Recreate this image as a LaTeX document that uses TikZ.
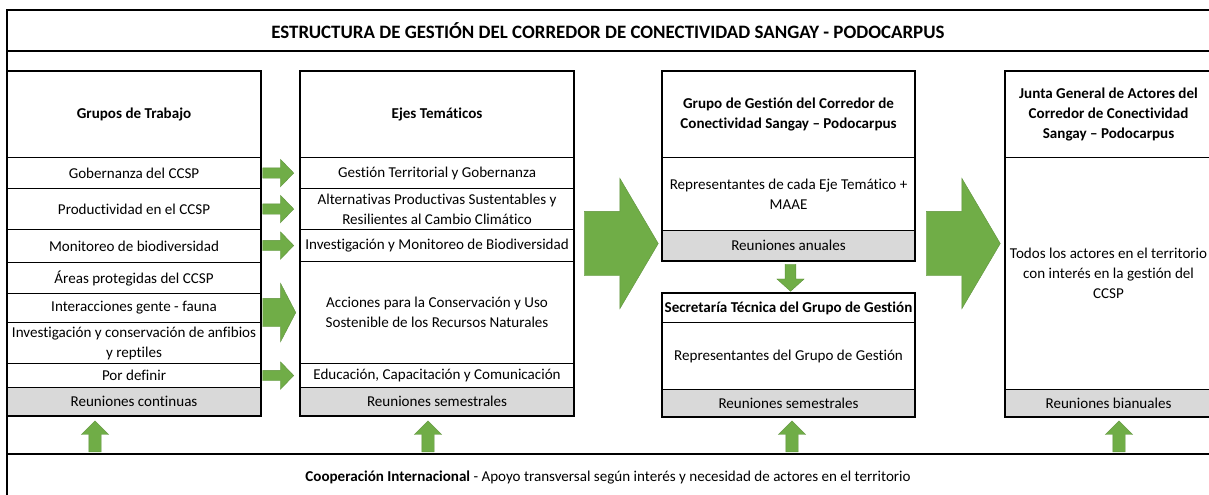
\documentclass[tikz,border=0pt]{standalone}
\usepackage{fontspec}
\setmainfont{Carlito}[Ligatures=NoCommon]
\usetikzlibrary{shapes.arrows,calc}

\definecolor{arrowgreen}{HTML}{70AD47}
\definecolor{meetgrey}{HTML}{D9D9D9}

\tikzset{
  cell/.style 2 args={draw, line width=0.8pt, anchor=north west, inner sep=0pt,
    minimum width=#1*0.75pt, minimum height=#2*0.75pt, align=center,
    font=\fontsize{11.3}{15}\selectfont},
  headcell/.style 2 args={cell={#1}{#2}, font=\fontsize{11.3}{15}\selectfont\bfseries},
  meetcell/.style 2 args={cell={#1}{#2}, fill=meetgrey},
  boxline/.style={line width=1.3pt},
  frameline/.style={line width=1.3pt},
  greenarrow/.style={single arrow, fill=arrowgreen, draw=arrowgreen!85!black,
    line width=0.3pt, single arrow head indent=0pt},
  smallarrow/.style={greenarrow, inner xsep=0pt, inner ysep=3.75pt,
    minimum height=23.25pt, single arrow head extend=6.4pt, single arrow tip angle=92},
  widearrow/.style={greenarrow, inner xsep=0pt, inner ysep=10.5pt,
    minimum height=24.75pt, single arrow head extend=11.25pt, single arrow tip angle=125},
  bigarrow/.style={greenarrow, inner xsep=0pt, inner ysep=24pt,
    minimum height=55.5pt, single arrow head extend=24.75pt, single arrow tip angle=119},
  downarrow/.style={greenarrow, inner sep=3.9pt, shape border rotate=270,
    minimum height=20.25pt, single arrow head extend=6.2pt, single arrow tip angle=96},
  uparrow/.style={greenarrow, inner sep=4.5pt, shape border rotate=90,
    minimum height=23.25pt, single arrow head extend=5.6pt, single arrow tip angle=90}
}

\begin{document}
\begin{tikzpicture}[x=0.75pt, y=-0.75pt]
\useasboundingbox (0,0) rectangle (1209,495);
\fill[white] (0,0) rectangle (1209,495);

% frame and title
\draw[frameline] (7,495) -- (7,10) -- (1215,10);
\draw[frameline] (7,51) -- (1215,51);
\draw[frameline] (7,454) -- (1215,454);
\node[font=\fontsize{14.2}{16}\selectfont\bfseries] (title) at (608,30.5)
  {ESTRUCTURA DE GESTIÓN DEL CORREDOR DE CONECTIVIDAD SANGAY - PODOCARPUS};

% Grupos de Trabajo
\node[headcell={253}{86}] (ghead) at (7,71) {Grupos de Trabajo};
\node[cell={253}{31}] (g1) at (7,157) {Gobernanza del CCSP};
\node[cell={253}{41}] (g2) at (7,188) {Productividad en el CCSP};
\node[cell={253}{33}] (g3) at (7,229) {Monitoreo de biodiversidad};
\node[cell={253}{31}] (g4) at (7,262) {Áreas protegidas del CCSP};
\node[cell={253}{29}] (g5) at (7,293) {Interacciones gente - fauna};
\node[cell={253}{41}] (g6) at (7,322) {Investigación y conservación de anfibios\\y reptiles};
\node[cell={253}{24}] (g7) at (7,363) {Por definir};
\node[meetcell={253}{28}] (gmeet) at (7,387) {Reuniones continuas};
\draw[boxline] (ghead.north west) rectangle (gmeet.south east);

% Ejes Tematicos
\node[headcell={273}{86}] (ehead) at (300,71) {Ejes Temáticos};
\node[cell={273}{31}] (e1) at (300,157) {Gestión Territorial y Gobernanza};
\node[cell={273}{41}] (e2) at (300,188) {Alternativas Productivas Sustentables y\\Resilientes al Cambio Climático};
\node[cell={273}{32}] (e3) at (300,229) {Investigación y Monitoreo de Biodiversidad};
\node[cell={273}{102}] (e4) at (300,261) {Acciones para la Conservación y Uso\\Sostenible de los Recursos Naturales};
\node[cell={273}{24}] (e5) at (300,363) {Educación, Capacitación y Comunicación};
\node[meetcell={273}{28}] (emeet) at (300,387) {Reuniones semestrales};
\draw[boxline] (ehead.north west) rectangle (emeet.south east);

% Grupo de Gestion y Secretaria
\node[headcell={252}{86}] (gghead) at (662,71) {Grupo de Gestión del Corredor de\\Conectividad Sangay – Podocarpus};
\node[cell={252}{73}] (gg1) at (662,157) {Representantes de cada Eje Temático +\\MAAE};
\node[meetcell={252}{30}] (ggmeet) at (662,230) {Reuniones anuales};
\draw[boxline] (gghead.north west) rectangle (ggmeet.south east);
\node[headcell={252}{29}] (sthead) at (662,293) {Secretaría Técnica del Grupo de Gestión};
\node[cell={252}{67}] (st1) at (662,322) {Representantes del Grupo de Gestión};
\node[meetcell={252}{27}] (stmeet) at (662,389) {Reuniones semestrales};
\draw[boxline] (sthead.north west) rectangle (stmeet.south east);

% Junta General
\node[headcell={206}{86}] (jghead) at (1005,71) {Junta General de Actores del\\Corredor de Conectividad\\Sangay – Podocarpus};
\node[cell={206}{232}] (jg1) at (1005,157) {Todos los actores en el territorio\\con interés en la gestión del\\CCSP};
\node[meetcell={206}{27}] (jgmeet) at (1005,389) {Reuniones bianuales};
\draw[boxline] (jghead.north west) rectangle (jgmeet.south east);

% arrows between columns
\node[smallarrow, anchor=tip] (a1) at ([xshift=-4.5pt]e1.west) {};
\node[smallarrow, anchor=tip] (a2) at ([xshift=-4.5pt]e2.west) {};
\node[smallarrow, anchor=tip] (a3) at ([xshift=-4.5pt]e3.west) {};
\node[widearrow, anchor=tip] (a4) at ([xshift=-3pt]e4.west) {};
\node[smallarrow, anchor=tip] (a5) at ([xshift=-4.5pt]e5.west) {};
\path (ehead.north east) -- (emeet.south east) coordinate[midway] (ejesmid);
\coordinate (gestmid) at (ejesmid -| gghead.east);
\node[bigarrow, anchor=tail] (b1) at ([xshift=7.5pt]ejesmid) {};
\node[bigarrow, anchor=tail] (b2) at ([xshift=8.25pt]gestmid) {};
\node[downarrow, anchor=tail] (d1) at ([xshift=1.5pt,yshift=-2.25pt]ggmeet.south) {};

% cooperacion
\node[font=\fontsize{11.3}{13}\selectfont] (coop) at (608,478)
  {\textbf{Cooperación Internacional} - Apoyo transversal según interés y necesidad de actores en el territorio};
\node[uparrow, anchor=tail] (u1) at (95,452) {};
\node[uparrow, anchor=tail] (u2) at (428,452) {};
\node[uparrow, anchor=tail] (u3) at (792,452) {};
\node[uparrow, anchor=tail] (u4) at (1119,452) {};
\end{tikzpicture}
\end{document}
